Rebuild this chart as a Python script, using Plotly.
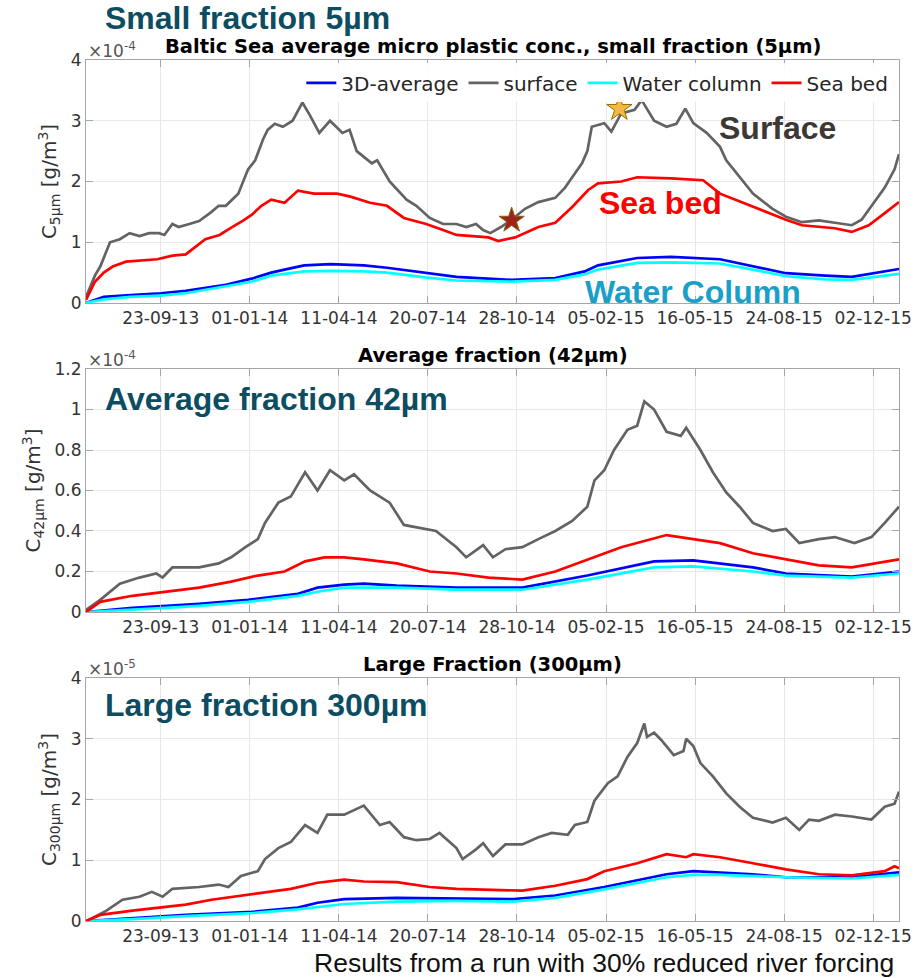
import pandas as pd
import plotly.graph_objects as go

START = pd.Timestamp("2013-07-01")

# ---------------- data (days since 2013-07-01, values scaled) ----------------
# Panel 1: small fraction 5 um, values in 1e-4 g/m3
p1_surface_days = [0, 10, 16, 27, 38, 49, 60, 71, 82, 88, 97, 104, 116, 127, 141, 149, 157, 171, 182, 190,
                   199, 204, 212, 221, 232, 243, 251, 262, 274, 288, 296, 304, 321, 327, 341, 360, 371, 386,
                   401, 416, 427, 438, 446, 454, 466, 478, 493, 508, 527, 538, 546, 557, 563, 568, 582, 590,
                   601, 616, 624, 638, 652, 663, 673, 682, 697, 712, 719, 749, 771, 786, 804, 823, 841, 860,
                   871, 882, 897, 908, 913]
p1_surface = [0.1, 0.45, 0.6, 1.0, 1.05, 1.15, 1.1, 1.15, 1.15, 1.12, 1.3, 1.25, 1.3, 1.35, 1.5, 1.6, 1.6, 1.8,
              2.2, 2.35, 2.7, 2.85, 2.95, 2.9, 3.0, 3.3, 3.1, 2.8, 3.0, 2.8, 2.85, 2.5, 2.3, 2.35, 2.0, 1.7,
              1.6, 1.4, 1.3, 1.3, 1.25, 1.3, 1.2, 1.15, 1.25, 1.37, 1.55, 1.66, 1.73, 1.9, 2.07, 2.3, 2.5,
              2.9, 2.96, 2.82, 3.12, 3.18, 3.34, 3.0, 2.9, 2.95, 3.2, 2.96, 2.8, 2.57, 2.35, 1.8, 1.55,
              1.42, 1.33, 1.36, 1.32, 1.28, 1.37, 1.6, 1.9, 2.2, 2.45]
p1_seabed_days = [0, 10, 20, 30, 45, 60, 80, 97, 112, 134, 150, 164, 176, 186, 197, 208, 223, 238, 256, 282,
                  297, 319, 338, 357, 382, 401, 416, 452, 463, 482, 508, 527, 546, 564, 575, 601, 619, 657,
                  693, 712, 749, 786, 804, 841, 860, 879, 897, 913]
p1_seabed = [0.05, 0.35, 0.5, 0.6, 0.68, 0.7, 0.72, 0.78, 0.8, 1.05, 1.12, 1.25, 1.35, 1.45, 1.6, 1.7, 1.65,
             1.85, 1.8, 1.8, 1.75, 1.65, 1.6, 1.4, 1.3, 1.2, 1.12, 1.08, 1.02, 1.08, 1.25, 1.32, 1.58, 1.86,
             1.97, 2.0, 2.07, 2.05, 2.02, 1.8, 1.58, 1.37, 1.28, 1.23, 1.17, 1.28, 1.48, 1.66]
p1_avg_days = [0, 20, 50, 84, 112, 140, 157, 186, 208, 223, 245, 275, 312, 338, 381, 416, 478, 527, 560, 575,
               619, 657, 712, 749, 786, 830, 860, 913]
p1_avg = [0.0, 0.1, 0.13, 0.16, 0.2, 0.26, 0.3, 0.4, 0.5, 0.55, 0.62, 0.64, 0.62, 0.58, 0.5, 0.43, 0.38, 0.41,
          0.52, 0.62, 0.74, 0.76, 0.72, 0.6, 0.49, 0.45, 0.43, 0.56]
p1_wc_days = [0, 20, 50, 84, 112, 157, 186, 208, 245, 275, 312, 338, 381, 416, 478, 527, 560, 575, 619, 657,
              712, 749, 786, 830, 860, 913]
p1_wc = [0.0, 0.06, 0.1, 0.12, 0.16, 0.27, 0.35, 0.45, 0.52, 0.53, 0.52, 0.5, 0.42, 0.37, 0.35, 0.38, 0.47,
         0.55, 0.66, 0.67, 0.65, 0.55, 0.44, 0.39, 0.38, 0.48]

# Panel 2: average fraction 42 um, values in 1e-4 g/m3
p2_surface_days = [0, 16, 38, 60, 79, 86, 97, 127, 149, 163, 179, 193, 201, 216, 230, 246, 260, 274, 290, 301,
                   319, 341, 357, 379, 393, 416, 427, 446, 457, 471, 490, 508, 527, 546, 563, 571, 582, 593,
                   608, 619, 627, 638, 652, 668, 674, 690, 704, 719, 734, 749, 771, 786, 801, 823, 841, 863,
                   882, 897, 913]
p2_surface = [0.01, 0.06, 0.14, 0.17, 0.19, 0.17, 0.22, 0.22, 0.24, 0.27, 0.32, 0.36, 0.44, 0.54, 0.57, 0.69,
              0.6, 0.7, 0.65, 0.68, 0.6, 0.54, 0.43, 0.41, 0.4, 0.32, 0.27, 0.33, 0.27, 0.31, 0.32, 0.36, 0.4,
              0.45, 0.52, 0.65, 0.7, 0.8, 0.9, 0.92, 1.04, 1.0, 0.89, 0.87, 0.91, 0.8, 0.69, 0.59, 0.52, 0.44,
              0.4, 0.41, 0.34, 0.36, 0.37, 0.34, 0.37, 0.44, 0.52]
p2_seabed_days = [0, 16, 52, 90, 127, 163, 193, 223, 246, 268, 290, 312, 349, 386, 416, 452, 490, 527, 563,
                  601, 652, 682, 712, 749, 786, 823, 860, 897, 913]
p2_seabed = [0.0, 0.05, 0.08, 0.1, 0.12, 0.15, 0.18, 0.2, 0.25, 0.27, 0.27, 0.26, 0.24, 0.2, 0.19, 0.17, 0.16,
             0.2, 0.26, 0.32, 0.38, 0.36, 0.34, 0.29, 0.26, 0.23, 0.22, 0.25, 0.26]
p2_avg_days = [0, 52, 90, 127, 182, 238, 260, 290, 312, 349, 416, 490, 563, 638, 682, 749, 786, 860, 913]
p2_avg = [0.0, 0.02, 0.03, 0.04, 0.06, 0.09, 0.12, 0.135, 0.14, 0.13, 0.12, 0.12, 0.18, 0.25, 0.255, 0.22,
          0.19, 0.175, 0.2]
p2_wc_days = [0, 52, 90, 127, 182, 238, 260, 290, 349, 416, 490, 563, 638, 682, 749, 786, 860, 913]
p2_wc = [0.0, 0.01, 0.02, 0.03, 0.05, 0.08, 0.1, 0.12, 0.12, 0.11, 0.11, 0.16, 0.22, 0.225, 0.2, 0.18, 0.17,
         0.19]

# Panel 3: large fraction 300 um, values in 1e-5 g/m3
p3_surface_days = [1, 23, 41, 60, 74, 86, 97, 127, 149, 160, 174, 193, 201, 216, 230, 246, 260, 271, 290, 301,
                   312, 330, 341, 357, 371, 386, 397, 416, 423, 438, 446, 457, 471, 490, 508, 523, 541, 549,
                   563, 571, 586, 597, 608, 619, 627, 630, 638, 646, 660, 671, 674, 682, 690, 704, 719, 734,
                   749, 771, 786, 801, 812, 823, 841, 860, 882, 897, 908, 913]
p3_surface = [0.0, 0.17, 0.35, 0.4, 0.48, 0.4, 0.53, 0.56, 0.6, 0.56, 0.74, 0.82, 1.02, 1.2, 1.3, 1.58, 1.45,
              1.75, 1.75, 1.83, 1.9, 1.58, 1.63, 1.38, 1.33, 1.35, 1.45, 1.2, 1.02, 1.18, 1.28, 1.07, 1.26,
              1.26, 1.38, 1.45, 1.42, 1.58, 1.63, 1.98, 2.27, 2.38, 2.7, 2.93, 3.25, 3.03, 3.1, 2.98, 2.73,
              2.8, 3.0, 2.88, 2.6, 2.38, 2.1, 1.88, 1.7, 1.62, 1.7, 1.5, 1.67, 1.65, 1.75, 1.72, 1.67, 1.88,
              1.93, 2.13]
p3_seabed_days = [0, 16, 52, 82, 112, 141, 179, 201, 230, 260, 290, 312, 349, 386, 416, 452, 490, 527, 563,
                  582, 619, 652, 674, 682, 712, 749, 786, 823, 860, 897, 908, 913]
p3_seabed = [0.0, 0.1, 0.17, 0.22, 0.27, 0.35, 0.42, 0.47, 0.53, 0.63, 0.68, 0.65, 0.64, 0.56, 0.53, 0.51, 0.5,
             0.58, 0.69, 0.82, 0.95, 1.1, 1.05, 1.1, 1.05, 0.95, 0.85, 0.77, 0.75, 0.82, 0.9, 0.87]
p3_avg_days = [0, 52, 112, 186, 238, 260, 290, 349, 416, 480, 527, 582, 652, 682, 749, 786, 860, 913]
p3_avg = [0.0, 0.05, 0.1, 0.15, 0.22, 0.3, 0.36, 0.38, 0.37, 0.36, 0.42, 0.56, 0.77, 0.82, 0.77, 0.72, 0.72, 0.8]
p3_wc_days = [0, 52, 112, 186, 238, 290, 349, 416, 480, 527, 582, 652, 682, 712, 786, 860, 913]
p3_wc = [0.0, 0.03, 0.08, 0.13, 0.19, 0.28, 0.32, 0.33, 0.32, 0.38, 0.52, 0.72, 0.76, 0.76, 0.72, 0.7, 0.76]

# star markers on panel 1 surface curve
star_gold_day = [599]
star_gold_val = [3.2]
star_red_day = [478]
star_red_val = [1.36]

tick_dates = ["2013-09-23", "2014-01-01", "2014-04-11", "2014-07-20", "2014-10-28",
              "2015-02-05", "2015-05-16", "2015-08-24", "2015-12-02"]
tick_labels = ["23-09-13", "01-01-14", "11-04-14", "20-07-14", "28-10-14",
               "05-02-15", "16-05-15", "24-08-15", "02-12-15"]

series_names = ["3D-average", "surface", "Water column", "Sea bed"]
series_colors = ["#0000ff", "#636363", "#00ffff", "#ff0000"]

panel_titles = ["Baltic Sea average micro plastic conc., small fraction (5μm)",
                "Average fraction (42μm)", "Large Fraction (300μm)"]
panel_exponents = ["-4", "-4", "-5"]
y_titles = ["C<sub>5μm</sub> [g/m<sup>3</sup>]", "C<sub>42μm</sub> [g/m<sup>3</sup>]",
            "C<sub>300μm</sub> [g/m<sup>3</sup>]"]
y_ranges = [[0, 4], [0, 1.2], [0, 4]]
y_tickvals = [[0, 1, 2, 3, 4], [0, 0.2, 0.4, 0.6, 0.8, 1.0, 1.2], [0, 1, 2, 3, 4]]
y_ticktext = [["0", "1", "2", "3", "4"], ["0", "0.2", "0.4", "0.6", "0.8", "1", "1.2"],
              ["0", "1", "2", "3", "4"]]


def to_dates(days):
    return [START + pd.Timedelta(days=d) for d in days]


panels = [
    dict(avg=(p1_avg_days, p1_avg), surf=(p1_surface_days, p1_surface),
         wc=(p1_wc_days, p1_wc), sb=(p1_seabed_days, p1_seabed)),
    dict(avg=(p2_avg_days, p2_avg), surf=(p2_surface_days, p2_surface),
         wc=(p2_wc_days, p2_wc), sb=(p2_seabed_days, p2_seabed)),
    dict(avg=(p3_avg_days, p3_avg), surf=(p3_surface_days, p3_surface),
         wc=(p3_wc_days, p3_wc), sb=(p3_seabed_days, p3_seabed)),
]

fig = go.Figure()
for i, p in enumerate(panels):
    xa = "x" if i == 0 else f"x{i+1}"
    ya = "y" if i == 0 else f"y{i+1}"
    for key, name, col in zip(["avg", "surf", "wc", "sb"], series_names, series_colors):
        d, v = p[key]
        fig.add_trace(go.Scatter(x=to_dates(d), y=v, mode="lines", name=name,
                                 line=dict(color=col, width=2.7), xaxis=xa, yaxis=ya,
                                 showlegend=(i == 0)))

fig.add_trace(go.Scatter(x=to_dates(star_gold_day), y=star_gold_val, mode="markers",
                         marker=dict(symbol="star", size=19, color="#f4b942",
                                     line=dict(color="#9a6a00", width=1)),
                         showlegend=False, xaxis="x", yaxis="y"))
fig.add_trace(go.Scatter(x=to_dates(star_red_day), y=star_red_val, mode="markers",
                         marker=dict(symbol="star", size=19, color="#a0221a",
                                     line=dict(color="#7a6a10", width=1)),
                         showlegend=False, xaxis="x", yaxis="y"))

tickfont = dict(family="DejaVu Sans", size=17, color="#333333")
axis_col = "#a6a6a6"
xcommon = dict(type="date", range=[START, START + pd.Timedelta(days=913)],
               tickvals=tick_dates, ticktext=tick_labels, tickfont=tickfont,
               showgrid=True, gridcolor="#e8e8e8", gridwidth=1,
               showline=True, linecolor=axis_col, linewidth=1, mirror="ticks",
               ticks="inside", ticklen=7, tickcolor=axis_col, zeroline=False)

domains = [[0.7178, 1.0], [0.3589, 0.6411], [0.0, 0.2822]]

layout = dict(
    width=923, height=978, paper_bgcolor="white", plot_bgcolor="white",
    margin=dict(l=86, r=15, t=60, b=57),
    font=dict(family="DejaVu Sans", color="#333333"),
    legend=dict(orientation="h", x=0.993, xanchor="right", y=0.996, yanchor="top",
                font=dict(family="DejaVu Sans", size=20, color="#262626"),
                bgcolor="rgba(255,255,255,0.9)", itemwidth=30, tracegroupgap=0),
)
for i in range(3):
    xk = "xaxis" if i == 0 else f"xaxis{i+1}"
    yk = "yaxis" if i == 0 else f"yaxis{i+1}"
    ya = "y" if i == 0 else f"y{i+1}"
    xa = "x" if i == 0 else f"x{i+1}"
    layout[xk] = dict(xcommon, anchor=ya, domain=[0, 1])
    layout[yk] = dict(range=y_ranges[i], tickvals=y_tickvals[i], ticktext=y_ticktext[i], tickfont=tickfont,
                      anchor=xa, domain=domains[i], showgrid=True, gridcolor="#e8e8e8",
                      showline=True, linecolor=axis_col, linewidth=1, mirror="ticks",
                      ticks="inside", ticklen=7, tickcolor=axis_col, zeroline=False,
                      title=dict(text=y_titles[i], font=dict(family="DejaVu Sans", size=20, color="#333333"),
                                 standoff=8))
fig.update_layout(**layout)

annots = []
title_y = [1.0, 0.6411, 0.2822]
for t, yy in zip(panel_titles, title_y):
    annots.append(dict(text=f"<b>{t}</b>", x=0.5, xref="paper", y=yy, yref="paper",
                       yanchor="bottom", yshift=0, showarrow=False,
                       font=dict(family="DejaVu Sans", size=19.5, color="black")))
for yy, ex in zip(title_y, panel_exponents):
    annots.append(dict(text=f"×10<sup>{ex}</sup>", x=0, xref="paper", y=yy, yref="paper",
                       xanchor="left", yanchor="bottom", yshift=-3, showarrow=False,
                       font=dict(family="DejaVu Sans", size=17, color="#555555")))

teal = "#0c4d62"
overlay = [
    ("<b>Small fraction 5µm</b>", 103, 18, teal, 32),
    ("<b>Average fraction 42µm</b>", 103, 399, teal, 32),
    ("<b>Large fraction 300µm</b>", 103, 705, teal, 32),
    ("<b>Surface</b>", 724, 128, "#3d3735", 32),
    ("<b>Sea bed</b>", 603, 203, "#ff0000", 32),
    ("<b>Water Column</b>", 588, 292, "#1a9fc9", 32),
    ("Results from a run with 30% reduced river forcing", 315, 963, "#111111", 26.5),
]
for txt, px, py, col, sz in overlay:
    annots.append(dict(text=txt, x=(px - 86) / 822, xref="paper",
                       y=(921 - py) / 861, yref="paper",
                       xanchor="left", yanchor="middle", showarrow=False,
                       font=dict(family="Liberation Sans", size=sz, color=col)))
fig.update_layout(annotations=annots)

fig.write_html("out.html")
